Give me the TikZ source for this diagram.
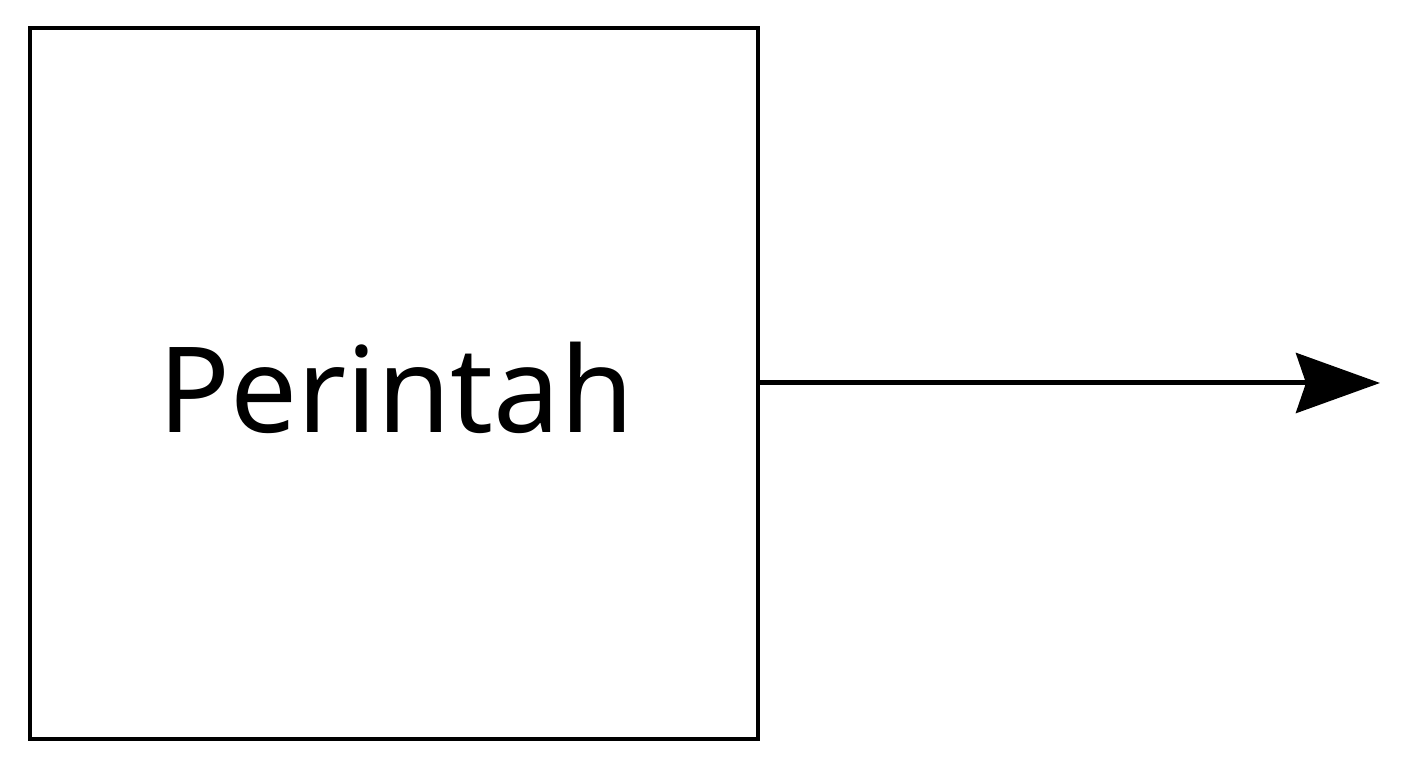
\documentclass[tikz,border=0pt]{standalone}
\usepackage{fontspec}
\setmainfont{Noto Sans}
\usetikzlibrary{arrows.meta}
\begin{document}
\begin{tikzpicture}[x=1pt,y=1pt,
  boxstyle/.style={draw=black,line width=3.2pt,minimum width=728pt,minimum height=711pt,inner sep=0pt,fill=white},
  arrowstyle/.style={line width=5pt,-{Stealth[length=84pt,width=60pt,inset=10pt]}}]
\useasboundingbox (0,0) rectangle (1408,768);
\node[boxstyle] (box) at (394,384.5) {};
\node[font=\fontsize{119}{125}\selectfont,anchor=base] (lbl) at (396,335) {Perintah};
\coordinate (tip) at (1380,385);
\draw[arrowstyle] (box.east |- tip) -- (tip);
\end{tikzpicture}
\end{document}
